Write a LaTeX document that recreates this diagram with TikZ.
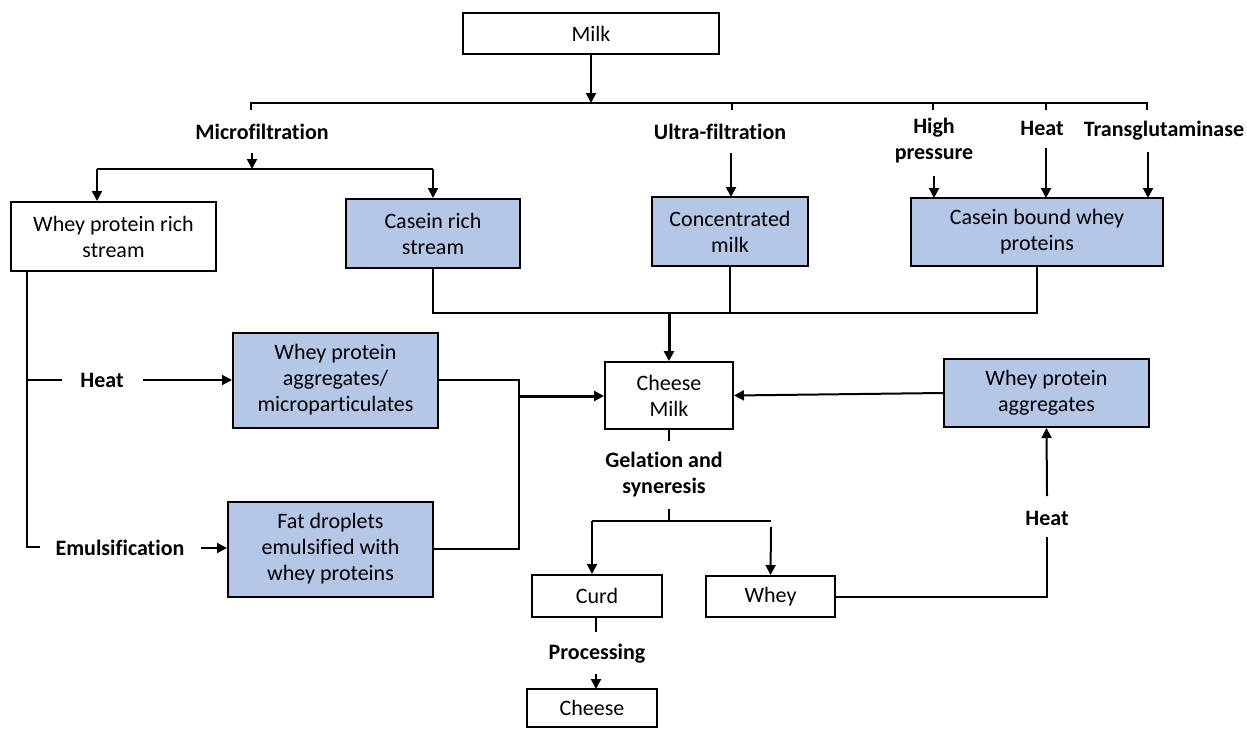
\documentclass[tikz,border=0pt]{standalone}
\usepackage{fontspec}
\setmainfont{Carlito}[Ligatures={NoCommon}]
\usetikzlibrary{arrows.meta}
\definecolor{boxblue}{HTML}{B4C7E7}
\tikzset{
  base/.style={draw=black, line width=1pt, align=center, inner sep=1pt,
    font=\fontsize{11}{13}\selectfont},
  wbox/.style={base, fill=white},
  bbox/.style={base, fill=boxblue},
  lbl/.style={align=center, inner sep=0pt, font=\fontsize{11}{13}\selectfont\bfseries},
  ln/.style={line width=1pt},
  arr/.style={line width=1pt, -{Triangle[length=5pt,width=5pt]}},
  tarr/.style={line width=1.5pt, -{Triangle[length=5pt,width=5pt]}}
}
\begin{document}
\begin{tikzpicture}[x=0.5pt,y=-0.5pt]
\useasboundingbox (0,0) rectangle (1247,728);
% boxes
\node[wbox, minimum width=128pt, minimum height=20.5pt] (milk) at (591,33.5) {Milk};
\node[wbox, minimum width=102.5pt, minimum height=34.5pt] (wprs) at (113.5,236.5) {Whey protein rich\\stream};
\node[bbox, minimum width=87pt, minimum height=34.5pt] (crs) at (433,233.5) {Casein rich\\stream};
\node[bbox, minimum width=78pt, minimum height=34.5pt] (cm) at (730,231.5) {Concentrated\\milk};
\node[bbox, minimum width=126pt, minimum height=34pt] (cbwp) at (1037,232) {Casein bound whey\\proteins};
\node[bbox, minimum width=102.5pt, minimum height=47.5pt] (wpa) at (335.5,380) {Whey protein\\aggregates/\\microparticulates};
\node[bbox, minimum width=102.5pt, minimum height=47.5pt] (fat) at (330.5,549) {Fat droplets\\emulsified with\\whey proteins};
\node[wbox, minimum width=64pt, minimum height=33.5pt] (chm) at (669,395.5) {Cheese\\Milk};
\node[bbox, minimum width=102.5pt, minimum height=34pt] (wpa2) at (1046.5,393) {Whey protein\\aggregates};
\node[wbox, minimum width=65pt, minimum height=21pt] (curd) at (597,596) {Curd};
\node[wbox, minimum width=64.5pt, minimum height=20.5pt] (whey) at (770.5,596.5) {Whey};
\node[wbox, minimum width=65pt, minimum height=19pt] (cheese) at (592,708) {Cheese};
% labels
\node[lbl] (lmf) at (262,132) {Microfiltration};
\node[lbl] (luf) at (720,132) {Ultra-filtration};
\node[lbl] (lhp) at (934,141) {High\\pressure};
\node[lbl] (lht) at (1042,128) {Heat};
\node[lbl] (ltg) at (1164,131) {Transglutaminase};
\node[lbl] (lhl) at (102,380) {Heat};
\node[lbl] (lem) at (120,548) {Emulsification};
\node[lbl] (lgs) at (664,475) {Gelation and\\syneresis};
\node[lbl] (lpr) at (597,654) {Processing};
\node[lbl] (lhr) at (1047,518) {Heat};
% coordinates
\coordinate (b1L) at (251,103);
\coordinate (b1R) at (1147,103);
\coordinate (b2L) at (97,169);
\coordinate (b2R) at (433,169);
\coordinate (cL) at (433,313);
\coordinate (cR) at (1037,313);
\coordinate (jx) at (519,380);
\coordinate (jb) at (519,549);
\coordinate (gL) at (592,521);
\coordinate (gR) at (771,521);
% top distribution
\draw[arr] (milk.south) -- (591,103);
\draw[ln] (251,110) -- (b1L) -- (b1R) -- (1147,110);
\draw[ln] (732,103) -- (732,110);
\draw[ln] (933,103) -- (933,110);
\draw[ln] (1046,103) -- (1046,110);
\draw[arr] (252,153) -- (252,169);
\draw[ln] (b2L) -- (b2R);
\draw[arr] (b2L) -- (b2L |- wprs.north);
\draw[arr] (b2R) -- (b2R |- crs.north);
\draw[arr] (731,153) -- (731,197);
\draw[arr] (934,176) -- (934,198);
\draw[arr] (1046,148) -- (1046,198);
\draw[arr] (1148,152) -- (1148,198);
% collector to cheese milk
\draw[ln] (crs.south) -- (cL) -- (cR) -- (cbwp.south);
\draw[ln] (cm.south) -- (730,313);
\draw[tarr] (669,312) -- (chm.north);
% left branch
\draw[ln] (27,271) -- (27,547) -- (40,547);
\draw[ln] (27,380) -- (62,380);
\draw[arr] (143,380) -- (wpa.west);
\draw[arr] (201,548) -- (fat.west |- 0,548);
\draw[ln] (wpa.east) -- (jx) -- (jb) -- (fat.east);
\draw[tarr] (519,396) -- (chm.west |- 0,396);
% right whey protein aggregates
\draw[arr] (wpa2.west) -- (chm.east);
% gelation
\draw[ln] (chm.south) -- (669,441);
\draw[ln] (669,509) -- (669,521);
\draw[ln] (gL) -- (gR);
\draw[arr] (gL) -- (gL |- curd.north);
\draw[arr] (771,527) -- (whey.north);
% processing
\draw[ln] (596,617) -- (596,632);
\draw[arr] (596,674) -- (596,689);
% whey to heat
\draw[ln] (whey.east) -- (1047,596.5) -- (1047,537);
\draw[arr] (1047,496) -- (wpa2.south);
\end{tikzpicture}
\end{document}
